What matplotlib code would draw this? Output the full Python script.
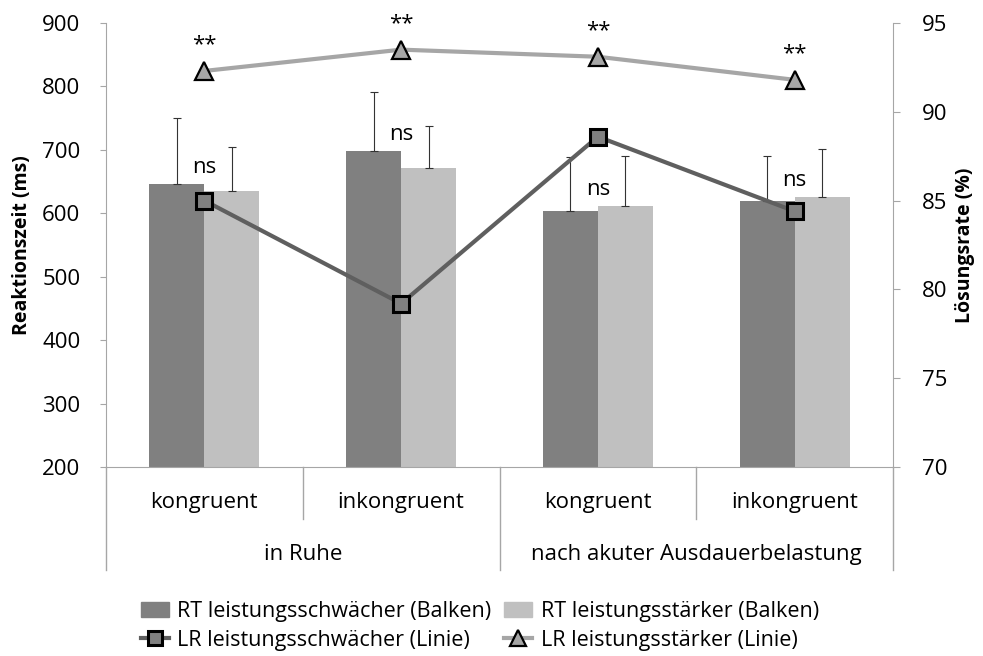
import matplotlib
matplotlib.use('Agg')
import matplotlib.pyplot as plt
from matplotlib.lines import Line2D
from matplotlib.patches import Patch
import matplotlib.transforms as mtransforms
import numpy as np

conditions = ['kongruent', 'inkongruent', 'kongruent', 'inkongruent']
groups = ['in Ruhe', 'nach akuter Ausdauerbelastung']
rt_weak = [646, 698, 603, 619]
rt_weak_err = [105, 93, 85, 72]
rt_strong = [635, 671, 612, 626]
rt_strong_err = [69, 67, 78, 76]
lr_weak = [85.0, 79.2, 88.6, 84.4]
lr_strong = [92.3, 93.5, 93.1, 91.8]
rt_sig = ['ns', 'ns', 'ns', 'ns']
lr_sig = ['**', '**', '**', '**']
left_ticks = [200, 300, 400, 500, 600, 700, 800, 900]
right_ticks = [70, 75, 80, 85, 90, 95]

plt.rcParams['font.family'] = ['Open Sans', 'DejaVu Sans']
FS = 16

C_DARK = '#808080'
C_LIGHT = '#c0c0c0'
C_LINE1 = '#5f5f5f'
C_LINE2 = '#a6a6a6'
C_AXIS = '#a6a6a6'

W, H = 983, 656
fig = plt.figure(figsize=(W / 100, H / 100), dpi=100)
ax = fig.add_axes([106 / W, 1 - 467 / H, (893 - 106) / W, (467 - 23) / H])

x = np.arange(len(conditions))
w = 0.28
ax.bar(x - w / 2, rt_weak, w, color=C_DARK, zorder=2)
ax.bar(x + w / 2, rt_strong, w, color=C_LIGHT, zorder=2)
ax.errorbar(x - w / 2, rt_weak, yerr=[[0] * 4, rt_weak_err], fmt='none',
            ecolor='#333333', elinewidth=0.8, capsize=3, capthick=0.8, zorder=3)
ax.errorbar(x + w / 2, rt_strong, yerr=[[0] * 4, rt_strong_err], fmt='none',
            ecolor='#333333', elinewidth=0.8, capsize=3, capthick=0.8, zorder=3)

for i, s in enumerate(rt_sig):
    top = max(rt_weak[i], rt_strong[i])
    ax.annotate(s, (x[i], top), xytext=(0, 12), textcoords='offset points',
                ha='center', va='center', fontsize=FS, zorder=4)

ax.set_xlim(-0.5, len(conditions) - 0.5)
ax.set_ylim(200, 900)
ax.set_yticks(left_ticks)
ax.set_xticks([])
for sp in ['top', 'right']:
    ax.spines[sp].set_visible(False)
ax.spines['left'].set_color(C_AXIS)
ax.spines['bottom'].set_color(C_AXIS)
ax.tick_params(axis='y', direction='out', length=4.5, color=C_AXIS, labelsize=FS, pad=14)

ax2 = ax.twinx()
ax2.plot(x, lr_weak, color=C_LINE1, lw=3, marker='s', markersize=12,
         mfc=C_DARK, mec='black', mew=2.2, zorder=5)
ax2.plot(x, lr_strong, color=C_LINE2, lw=3, marker='^', markersize=13,
         mfc=C_LINE2, mec='black', mew=1.6, zorder=5)
for i, s in enumerate(lr_sig):
    ax2.annotate(s, (x[i], lr_strong[i]), xytext=(0, 19), textcoords='offset points',
                 ha='center', va='center', fontsize=FS)
ax2.set_ylim(70, 95)
ax2.set_yticks(right_ticks)
for sp in ['top', 'left', 'bottom']:
    ax2.spines[sp].set_visible(False)
ax2.spines['right'].set_color(C_AXIS)
ax2.tick_params(axis='y', direction='out', length=5, color=C_AXIS, labelsize=FS, pad=16)

# hierarchical category axis
trans = mtransforms.blended_transform_factory(ax.transData, ax.transAxes)
for i, c in enumerate(conditions):
    ax.text(x[i], -0.081, c, transform=trans, ha='center', va='center', fontsize=FS)
for g, name in enumerate(groups):
    ax.text(2 * g + 0.5, -0.198, name, transform=trans, ha='center', va='center', fontsize=FS)
for b in [-0.5, 0.5, 1.5, 2.5, 3.5]:
    long = (b in (-0.5, 1.5, 3.5))
    ax.add_line(Line2D([b, b], [0, -0.232 if long else -0.117], transform=trans,
                       color=C_AXIS, lw=1, clip_on=False))

fig.text(22 / W, 1 - 245 / H, 'Reaktionszeit (ms)', rotation=90, ha='center', va='center',
         fontsize=14, fontweight='bold')
fig.text(965 / W, 1 - 245 / H, 'Lösungsrate (%)', rotation=90, ha='center', va='center',
         fontsize=14, fontweight='bold')

handles = [
    Patch(color=C_DARK),
    Line2D([], [], color=C_LINE1, lw=3, marker='s', markersize=10, mfc=C_DARK, mec='black', mew=2.2),
    Patch(color=C_LIGHT),
    Line2D([], [], color=C_LINE2, lw=3, marker='^', markersize=11, mfc=C_LINE2, mec='black', mew=1.6),
]
labels = ['RT leistungsschwächer (Balken)', 'LR leistungsschwächer (Linie)',
          'RT leistungsstärker (Balken)', 'LR leistungsstärker (Linie)']
fig.legend(handles, labels, ncol=2, loc='center', bbox_to_anchor=(480 / W, 1 - 626 / H),
           frameon=False, fontsize=15.5, handlelength=1.3, handletextpad=0.4,
           columnspacing=0.6, labelspacing=0.35)

fig.savefig('out.png', dpi=100)
